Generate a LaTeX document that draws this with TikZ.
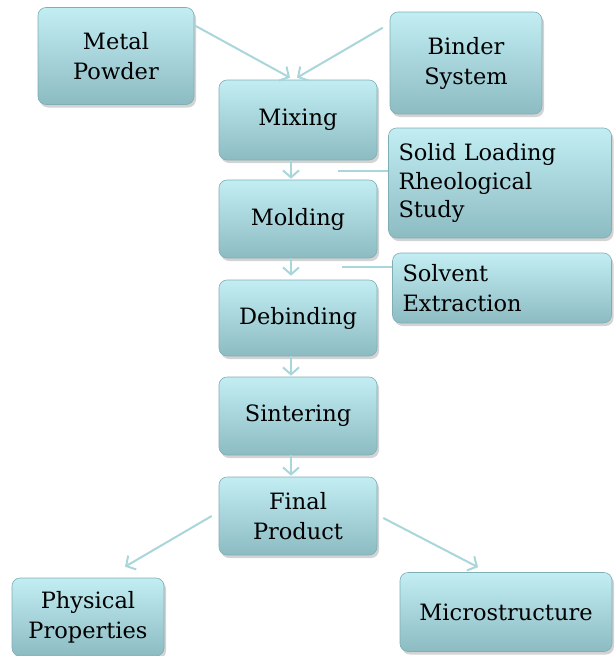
\documentclass[tikz,border=0pt]{standalone}
\usepackage{fontspec}
\setmainfont{DejaVu Serif}
\usetikzlibrary{arrows.meta,shadows}
\definecolor{boxtop}{HTML}{C2EEF3}
\definecolor{boxbot}{HTML}{8CBBC2}
\definecolor{boxline}{HTML}{7FAEB5}
\definecolor{linkcol}{HTML}{A9D6DB}
\begin{document}
\begin{tikzpicture}[x=1pt,y=-1pt,
  stage/.style={draw=boxline,line width=0.6pt,rounded corners=8pt,top color=boxtop,bottom color=boxbot,
    drop shadow={shadow xshift=2pt,shadow yshift=-3pt,opacity=0.35},
    minimum width=158pt,minimum height=78pt,align=center,font=\fontsize{22.5}{30}\selectfont,inner sep=2pt},
  link/.style={draw=linkcol,line width=2pt,-{Straight Barb[length=7pt,width=16pt]}},
  tie/.style={draw=linkcol,line width=2pt}]
\useasboundingbox (0,0) rectangle (614,656);
% top inputs
\node[stage,minimum width=156pt,minimum height=97pt] (metal) at (116,56) {Metal\\Powder};
\node[stage,minimum width=152pt,minimum height=102pt] (binder) at (466,63) {Binder\\System};
% main line
\node[stage,minimum height=80pt] (mix) at (298,120) {Mixing};
\node[stage] (mold) at (298,219) {Molding};
\node[stage,minimum height=76pt] (debind) at (298,318) {Debinding};
\node[stage] (sinter) at (298,416) {Sintering};
\node[stage] (final) at (298,516) {Final\\Product};
% side notes
\node[stage,minimum width=223pt,minimum height=110pt,align=left,text width=203pt,font=\fontsize{22.5}{28.5}\selectfont] (solid) at (500,183) {Solid Loading\\Rheological\\Study};
\node[stage,minimum width=219pt,minimum height=70pt,align=left,text width=199pt] (solvent) at (502,288) {Solvent\\Extraction};
% outputs
\node[stage,minimum width=152pt] (phys) at (88,617) {Physical\\Properties};
\node[stage,minimum width=212pt,minimum height=79pt] (micro) at (506,612) {Microstructure};
% connectors
\draw[link] ([yshift=-18pt]metal.north east) -- ([xshift=-8pt,yshift=2pt]mix.north);
\draw[link] ([xshift=-7pt,yshift=-16pt]binder.north west) -- ([xshift=-1pt,yshift=2pt]mix.north);
\draw[link] ([xshift=-7pt]mix.south) -- ([xshift=-7pt,yshift=1pt]mold.north);
\draw[link] ([xshift=-7pt]mold.south) -- ([xshift=-7pt,yshift=4pt]debind.north);
\draw[link] ([xshift=-7pt]debind.south) -- ([xshift=-7pt,yshift=1pt]sinter.north);
\draw[link] ([xshift=-7pt]sinter.south) -- ([xshift=-7pt,yshift=1pt]final.north);
\draw[link] ([xshift=-7pt]final.west) -- ([xshift=37pt,yshift=11pt]phys.north);
\draw[link] ([xshift=6pt,yshift=-2pt]final.east) -- ([xshift=-28pt,yshift=5pt]micro.north);
\coordinate (solidtap) at (338,171);
\coordinate (solventtap) at (342,267);
\draw[tie] (solidtap) -- (solidtap-|solid.west);
\draw[tie] (solventtap) -- (solventtap-|solvent.west);
\end{tikzpicture}
\end{document}
